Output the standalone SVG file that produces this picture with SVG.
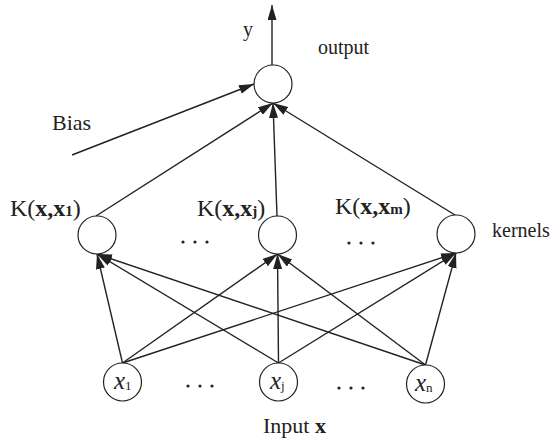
<svg xmlns="http://www.w3.org/2000/svg" width="553" height="440" viewBox="0 0 553 440">
<style>
.n{fill:#fff;stroke:#222;stroke-width:1.2}
.c{stroke:#222;stroke-width:1.4;fill:none}
.t{font-family:"Liberation Serif","Times New Roman",serif;fill:#222}
.d{fill:#222}
</style>
<defs>
<marker id="ah" markerUnits="userSpaceOnUse" markerWidth="16" markerHeight="10" refX="15" refY="4.5" orient="auto">
<path d="M0,0 L15,4.5 L0,9 z" fill="#222"/>
</marker>
</defs>
<rect width="553" height="440" fill="#fff"/>
<g id="connectors">
<line class="c" x1="272" y1="65" x2="272" y2="5" marker-end="url(#ah)"/>
<line class="c" x1="72" y1="155" x2="254" y2="84" marker-end="url(#ah)"/>
<line class="c" x1="96" y1="216" x2="273" y2="103" marker-end="url(#ah)"/>
<line class="c" x1="277" y1="216" x2="273" y2="103" marker-end="url(#ah)"/>
<line class="c" x1="455" y1="215" x2="273" y2="103" marker-end="url(#ah)"/>
<line class="c" x1="122.5" y1="363" x2="97" y2="254" marker-end="url(#ah)"/>
<line class="c" x1="122.5" y1="363" x2="277.5" y2="254" marker-end="url(#ah)"/>
<line class="c" x1="122.5" y1="363" x2="456" y2="253" marker-end="url(#ah)"/>
<line class="c" x1="278.5" y1="363" x2="97" y2="254" marker-end="url(#ah)"/>
<line class="c" x1="278.5" y1="363" x2="277.5" y2="254" marker-end="url(#ah)"/>
<line class="c" x1="278.5" y1="363" x2="456" y2="253" marker-end="url(#ah)"/>
<line class="c" x1="425.5" y1="365" x2="97" y2="254" marker-end="url(#ah)"/>
<line class="c" x1="425.5" y1="365" x2="277.5" y2="254" marker-end="url(#ah)"/>
<line class="c" x1="425.5" y1="365" x2="456" y2="253" marker-end="url(#ah)"/>
</g>
<g id="output">
<circle class="n" cx="273" cy="84" r="19"/>
<text class="t" x="243" y="36" font-size="20">y</text>
<text class="t" x="318" y="54" font-size="20">output</text>
</g>
<text id="bias" class="t" x="52" y="130" font-size="22">Bias</text>
<g id="kernel1">
<circle class="n" cx="97" cy="235" r="19"/>
<text class="t" x="10" y="216" font-size="24">K(<tspan font-weight="bold">x,x<tspan font-size="15">1</tspan></tspan>)</text>
</g>
<g id="kernel2">
<circle class="n" cx="277.5" cy="235" r="19"/>
<text class="t" x="197" y="216" font-size="24">K(<tspan font-weight="bold">x,x<tspan font-size="15">j</tspan></tspan>)</text>
</g>
<g id="kernel3">
<circle class="n" cx="456" cy="234" r="19"/>
<text class="t" x="335" y="214" font-size="24">K(<tspan font-weight="bold">x,x<tspan font-size="15">m</tspan></tspan>)</text>
<text class="t" x="492" y="237" font-size="20">kernels</text>
</g>
<g id="kernel-dots">
<circle class="d" cx="183" cy="242" r="1.6"/><circle class="d" cx="195" cy="242" r="1.6"/><circle class="d" cx="207" cy="242" r="1.6"/>
<circle class="d" cx="349" cy="243" r="1.6"/><circle class="d" cx="361" cy="243" r="1.6"/><circle class="d" cx="373" cy="243" r="1.6"/>
</g>
<g id="input1">
<circle class="n" cx="122.5" cy="382" r="19"/>
<text class="t" x="114" y="389" font-size="25" font-style="italic">x<tspan font-size="13" font-style="normal" dy="1">1</tspan></text>
</g>
<g id="input2">
<circle class="n" cx="278.5" cy="382" r="19"/>
<text class="t" x="270" y="389" font-size="25" font-style="italic">x<tspan font-size="13" font-style="normal" dy="1">j</tspan></text>
</g>
<g id="input3">
<circle class="n" cx="425.5" cy="384" r="19"/>
<text class="t" x="415" y="391" font-size="25" font-style="italic">x<tspan font-size="13" font-style="normal" dy="1">n</tspan></text>
</g>
<g id="input-dots">
<circle class="d" cx="188" cy="386" r="1.6"/><circle class="d" cx="200" cy="386" r="1.6"/><circle class="d" cx="212" cy="386" r="1.6"/>
<circle class="d" cx="339" cy="388" r="1.6"/><circle class="d" cx="351" cy="388" r="1.6"/><circle class="d" cx="363" cy="388" r="1.6"/>
</g>
<text id="input-label" class="t" x="263" y="433" font-size="22">Input <tspan font-weight="bold">x</tspan></text>
</svg>
